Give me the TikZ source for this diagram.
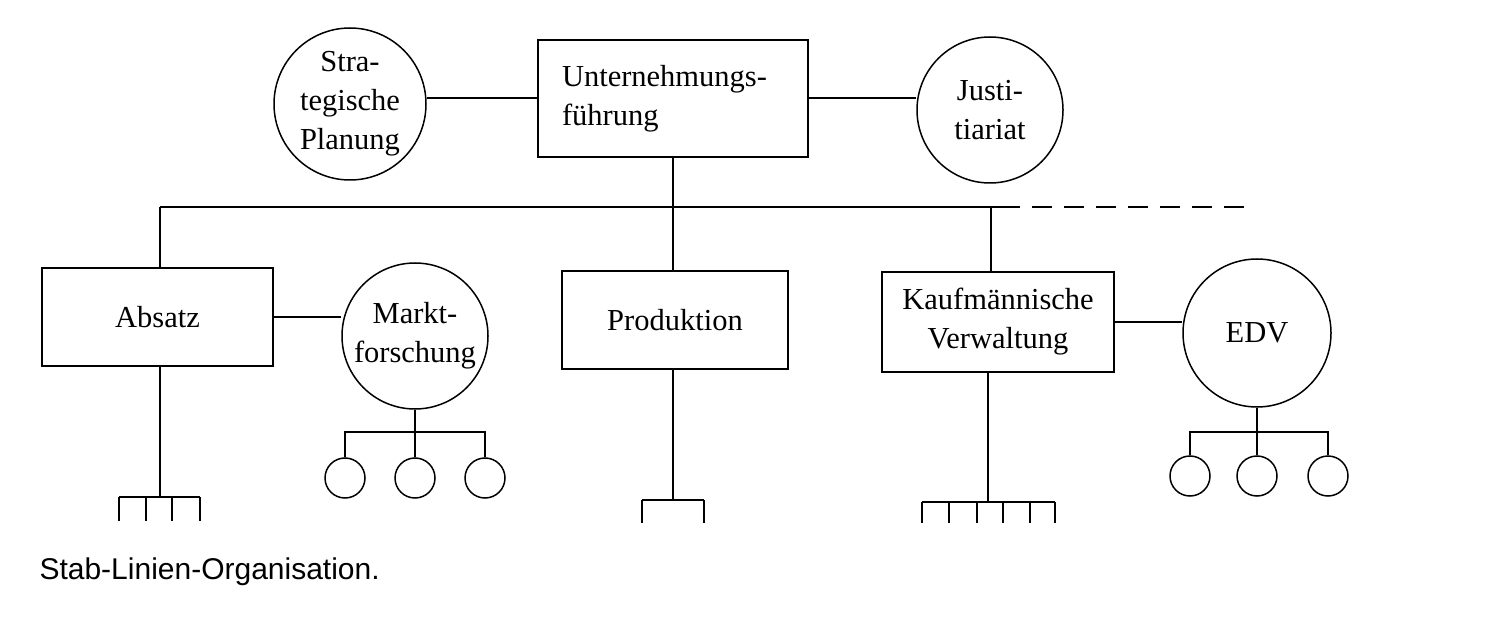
\documentclass[tikz,border=0pt]{standalone}
\usepackage{fontspec}
\setmainfont{Liberation Serif}
\setsansfont{Liberation Sans}
\usetikzlibrary{positioning}

\tikzset{
  linebox/.style={draw, line width=1.8pt, inner sep=0pt, font=\fontsize{30.5}{39}\selectfont},
  staff/.style={draw, circle, line width=1.5pt, inner sep=0pt, align=center, font=\fontsize{30.5}{39}\selectfont},
  unit/.style={draw, circle, line width=1.5pt, inner sep=0pt, minimum size=40pt},
  conn/.style={line width=2pt},
}

\begin{document}
\begin{tikzpicture}[x=1pt, y=-1pt]
  \useasboundingbox (0,0) rectangle (1491,617);

  % Top management and its staff
  \node[linebox, minimum width=270pt, minimum height=117pt, inner xsep=24pt, text width=222pt, align=left] (uf) at (673,98.5) {Unternehmungs-\\f\"uhrung};
  \node[staff, minimum size=152pt] (sp) at (350,104) {Stra-\\tegische\\Planung};
  \node[staff, minimum size=146pt] (ju) at (990,110) {Justi-\\tiariat};
  \draw[conn] (uf.west) -- (uf.west -| sp.east);
  \draw[conn] (uf.east) -- (uf.east -| ju.west);

  % Line departments
  \node[linebox, minimum width=231pt, minimum height=98pt] (ab) at (157.5,317) {Absatz};
  \node[linebox, minimum width=226pt, minimum height=98pt] (pr) at (675,320) {Produktion};
  \node[linebox, minimum width=232pt, minimum height=100pt, align=center] (kv) at (998,322) {Kaufm\"annische\\Verwaltung};

  % Bus line
  \coordinate (bl) at (160,207);
  \coordinate (br) at (1000,207);
  \coordinate (be) at (1255,207);
  \draw[line width=2.4pt] (bl) -- (br);
  \draw[line width=2.4pt, dash pattern=on 20pt off 12pt] (br) -- (be);
  \draw[conn] (uf.south) -- (uf.south |- bl);
  \draw[conn] (160,268) -- (bl);
  \draw[conn] (673,271) -- (673,207);
  \draw[conn] (991,272) -- (991,207);

  % Staff of the departments
  \node[staff, minimum size=146pt] (mf) at (415,336) {Markt-\\forschung};
  \node[staff, minimum size=148pt] (edv) at (1257,333) {EDV};
  \draw[conn] (ab.east) -- (ab.east -| mf.west);
  \draw[conn] (kv.east) -- (kv.east -| edv.west);

  % Units below Marktforschung
  \node[unit] (m1) at (345,478) {};
  \node[unit] (m2) at (415,478) {};
  \node[unit] (m3) at (485,478) {};
  \coordinate (mj) at (415,432);
  \draw[conn] (mf.south) -- (mj) -- (m2.north);
  \draw[conn] (m1.north) -- (m1.north |- mj) -- (m3.north |- mj) -- (m3.north);

  % Units below EDV
  \node[unit] (e1) at (1190,476) {};
  \node[unit] (e2) at (1257,476) {};
  \node[unit] (e3) at (1328,476) {};
  \coordinate (ej) at (1257,432);
  \draw[conn] (edv.south) -- (ej) -- (e2.north);
  \draw[conn] (e1.north) -- (e1.north |- ej) -- (e3.north |- ej) -- (e3.north);

  % Subordinate positions
  \coordinate (aj) at (160,497);
  \draw[conn] (160,366) -- (aj);
  \draw[conn] (119,497) -- (200,497);
  \foreach \x in {119,146,172,200} \draw[conn] (\x,497) -- (\x,521);

  \coordinate (pj) at (673,500);
  \draw[conn] (673,369) -- (pj);
  \draw[conn] (642,500) -- (704,500);
  \foreach \x in {642,704} \draw[conn] (\x,500) -- (\x,523);

  \coordinate (kj) at (988,502);
  \draw[conn] (988,372) -- (kj);
  \draw[conn] (922,502) -- (1055,502);
  \foreach \x in {922,949,977,1003,1030,1055} \draw[conn] (\x,502) -- (\x,523);

  % Caption
  \node[anchor=west, font=\sffamily\fontsize{30}{36}\selectfont] (cap) at (36,572) {Stab-Linien-Organisation.};
\end{tikzpicture}
\end{document}
